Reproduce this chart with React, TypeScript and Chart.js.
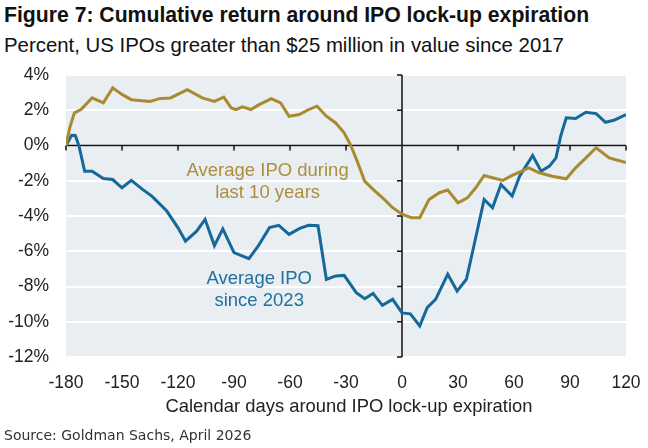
import React, { useEffect, useRef } from "react";
import { Chart, registerables } from "chart.js";

Chart.register(...registerables);

// Days around lock-up expiration and cumulative return (%)
const goldDays = [-180, -178, -175.5, -172, -166, -160, -155, -150, -145, -135, -130, -124, -115, -107, -100.5, -95.5, -91.5, -89, -85.5, -81, -76.5, -70, -65, -60.5, -55, -50, -45.5, -40.5, -35.5, -31, -27.5, -24, -20, -15.5, -9.5, -5, 0, 5, 9.5, 14.5, 20, 24.5, 30, 35, 39.5, 44, 48.5, 54, 59, 68, 73.5, 80.5, 88, 93, 99.5, 104, 111, 120];
const goldValues = [0, 1.0, 1.85, 2.04, 2.7, 2.42, 3.27, 2.9, 2.6, 2.5, 2.66, 2.7, 3.17, 2.7, 2.5, 2.74, 2.13, 2.04, 2.19, 2.04, 2.32, 2.66, 2.42, 1.66, 1.76, 2.04, 2.23, 1.66, 1.28, 0.72, 0.02, -0.89, -2.02, -2.49, -3.06, -3.53, -3.9, -4.1, -4.1, -3.06, -2.68, -2.53, -3.25, -2.97, -2.4, -1.7, -1.83, -1.98, -1.7, -1.27, -1.55, -1.74, -1.89, -1.27, -0.6, -0.13, -0.7, -0.97];

const blueDays = [-180, -177, -175, -173, -170, -166, -160, -155, -150, -145, -139, -134, -126, -120, -116, -110, -105.5, -100.5, -96, -90, -82, -77, -71, -66, -60.5, -54.5, -50, -45, -40.5, -35.5, -31, -24.5, -20, -15.5, -10.5, -5, 0, 4.5, 9.5, 13.5, 18, 24.5, 29.5, 34.5, 38.5, 44, 48.5, 53, 59, 63, 70, 74.5, 79, 82.5, 85, 88, 93, 98.5, 104, 109, 113.5, 120];
const blueValues = [0, 0.58, 0.57, -0.04, -1.46, -1.46, -1.87, -1.93, -2.4, -1.98, -2.49, -2.87, -3.72, -4.67, -5.42, -4.86, -4.19, -5.68, -4.73, -6.08, -6.42, -5.7, -4.66, -4.53, -5.04, -4.69, -4.53, -4.55, -7.6, -7.4, -7.37, -8.35, -8.69, -8.39, -9.07, -8.73, -9.5, -9.55, -10.24, -9.2, -8.73, -7.31, -8.26, -7.59, -5.7, -3.06, -3.53, -2.21, -2.87, -1.74, -0.57, -1.46, -1.17, -0.7, 0.53, 1.57, 1.53, 1.89, 1.81, 1.32, 1.43, 1.75];

const xTicks = [-180, -150, -120, -90, -60, -30, 0, 30, 60, 90, 120];
const yTicks = [4, 2, 0, -2, -4, -6, -8, -10, -12];

const goldLabel = ["Average IPO during", "last 10 years"];
const blueLabel = ["Average IPO", "since 2023"];

const GOLD = "#a98a2f";
const GOLD_TEXT = "#ad8e3c";
const BLUE = "#166899";
const BLUE_TEXT = "#23709f";
const PLOT_BG = "#e9eef3";
const FONT = "'Liberation Sans', Arial, sans-serif";

const framePlugin = {
  id: "frame",
  beforeDraw(chart: any) {
    const { ctx, chartArea: a } = chart;
    ctx.save();
    ctx.fillStyle = PLOT_BG;
    ctx.fillRect(a.left, a.top, a.right - a.left, a.bottom - a.top);
    ctx.restore();
  },
  beforeDatasetsDraw(chart: any) {
    const { ctx } = chart;
    const xs = chart.scales.x;
    const ys = chart.scales.y;
    const y0 = ys.getPixelForValue(0);
    const x0 = xs.getPixelForValue(0);
    ctx.save();
    ctx.strokeStyle = "#111";
    ctx.lineWidth = 1.5;
    ctx.beginPath();
    ctx.moveTo(xs.left, y0);
    ctx.lineTo(xs.right, y0);
    xTicks.forEach((t) => {
      const px = xs.getPixelForValue(t);
      ctx.moveTo(px, y0);
      ctx.lineTo(px, y0 + 5);
    });
    ctx.moveTo(x0, ys.top);
    ctx.lineTo(x0, ys.bottom);
    yTicks.forEach((t) => {
      const py = ys.getPixelForValue(t);
      ctx.moveTo(x0 - 5, py);
      ctx.lineTo(x0, py);
    });
    ctx.stroke();
    ctx.restore();
  },
  afterDatasetsDraw(chart: any) {
    const { ctx } = chart;
    const xs = chart.scales.x;
    const ys = chart.scales.y;
    ctx.save();
    ctx.font = `18.5px ${FONT}`;
    ctx.textAlign = "center";
    ctx.textBaseline = "middle";
    const drawBlock = (lines: string[], day: number, val: number, color: string) => {
      const cx = xs.getPixelForValue(day);
      const cy = ys.getPixelForValue(val);
      ctx.fillStyle = color;
      const lh = 21.5;
      lines.forEach((l, i) => {
        ctx.fillText(l, cx, cy + (i - (lines.length - 1) / 2) * lh);
      });
    };
    drawBlock(goldLabel, -72, -2.06, GOLD_TEXT);
    drawBlock(blueLabel, -76.5, -8.2, BLUE_TEXT);
    ctx.restore();
  },
};

export default function App() {
  const ref = useRef<HTMLCanvasElement | null>(null);

  useEffect(() => {
    if (!ref.current) return;
    const chart = new Chart(ref.current, {
      type: "line",
      data: {
        datasets: [
          {
            label: "Average IPO during last 10 years",
            data: goldDays.map((d, i) => ({ x: d, y: goldValues[i] })),
            borderColor: GOLD,
            borderWidth: 3,
            pointRadius: 0,
            tension: 0,
          },
          {
            label: "Average IPO since 2023",
            data: blueDays.map((d, i) => ({ x: d, y: blueValues[i] })),
            borderColor: BLUE,
            borderWidth: 3,
            pointRadius: 0,
            tension: 0,
          },
        ],
      },
      options: {
        animation: false,
        responsive: false,
        devicePixelRatio: 1,
        layout: { padding: { top: 75, right: 22, left: 0, bottom: 0 } },
        plugins: { legend: { display: false }, tooltip: { enabled: false }, title: { display: false } },
        scales: {
          x: {
            type: "linear",
            min: -180,
            max: 120,
            afterBuildTicks: (s: any) => {
              s.ticks = xTicks.map((v) => ({ value: v }));
            },
            afterFit: (s: any) => {
              s.height = 91;
            },
            grid: { display: false, drawTicks: true, tickLength: 10 },
            border: { display: false },
            ticks: {
              autoSkip: false,
              maxRotation: 0,
              padding: 6,
              color: "#222",
              font: { family: FONT, size: 17.5 },
            },
          },
          y: {
            min: -12,
            max: 4,
            afterBuildTicks: (s: any) => {
              s.ticks = yTicks.map((v) => ({ value: v }));
            },
            afterFit: (s: any) => {
              s.width = 66;
            },
            grid: { color: "#ffffff", lineWidth: 2, drawTicks: false },
            border: { display: false },
            ticks: {
              padding: 17,
              color: "#222",
              font: { family: FONT, size: 17.5 },
              callback: (v: any) => `${v}%`,
            },
          },
        },
      },
      plugins: [framePlugin],
    });
    return () => chart.destroy();
  }, []);

  return (
    <div
      style={{
        position: "fixed",
        left: 0,
        top: 0,
        width: 648,
        height: 448,
        background: "#fff",
        overflow: "hidden",
        fontFamily: FONT,
      }}
    >
      <div style={{ position: "absolute", left: 4, top: 3, fontSize: 21.2, fontWeight: "bold", color: "#111", whiteSpace: "nowrap" }}>
        Figure 7: Cumulative return around IPO lock-up expiration
      </div>
      <div style={{ position: "absolute", left: 4, top: 34, fontSize: 20.4, color: "#111", whiteSpace: "nowrap" }}>
        Percent, US IPOs greater than $25 million in value since 2017
      </div>
      <canvas ref={ref} width={648} height={448} style={{ position: "absolute", left: 0, top: 0, width: 648, height: 448 }} />
      <div style={{ position: "absolute", left: 0, width: 698, top: 395, textAlign: "center", fontSize: 18.4, color: "#222", whiteSpace: "nowrap" }}>
        Calendar days around IPO lock-up expiration
      </div>
      <div style={{ position: "absolute", left: 4, top: 427, fontSize: 14, color: "#333", fontFamily: "'DejaVu Sans', Verdana, sans-serif", whiteSpace: "nowrap" }}>
        Source: Goldman Sachs, April 2026
      </div>
    </div>
  );
}
